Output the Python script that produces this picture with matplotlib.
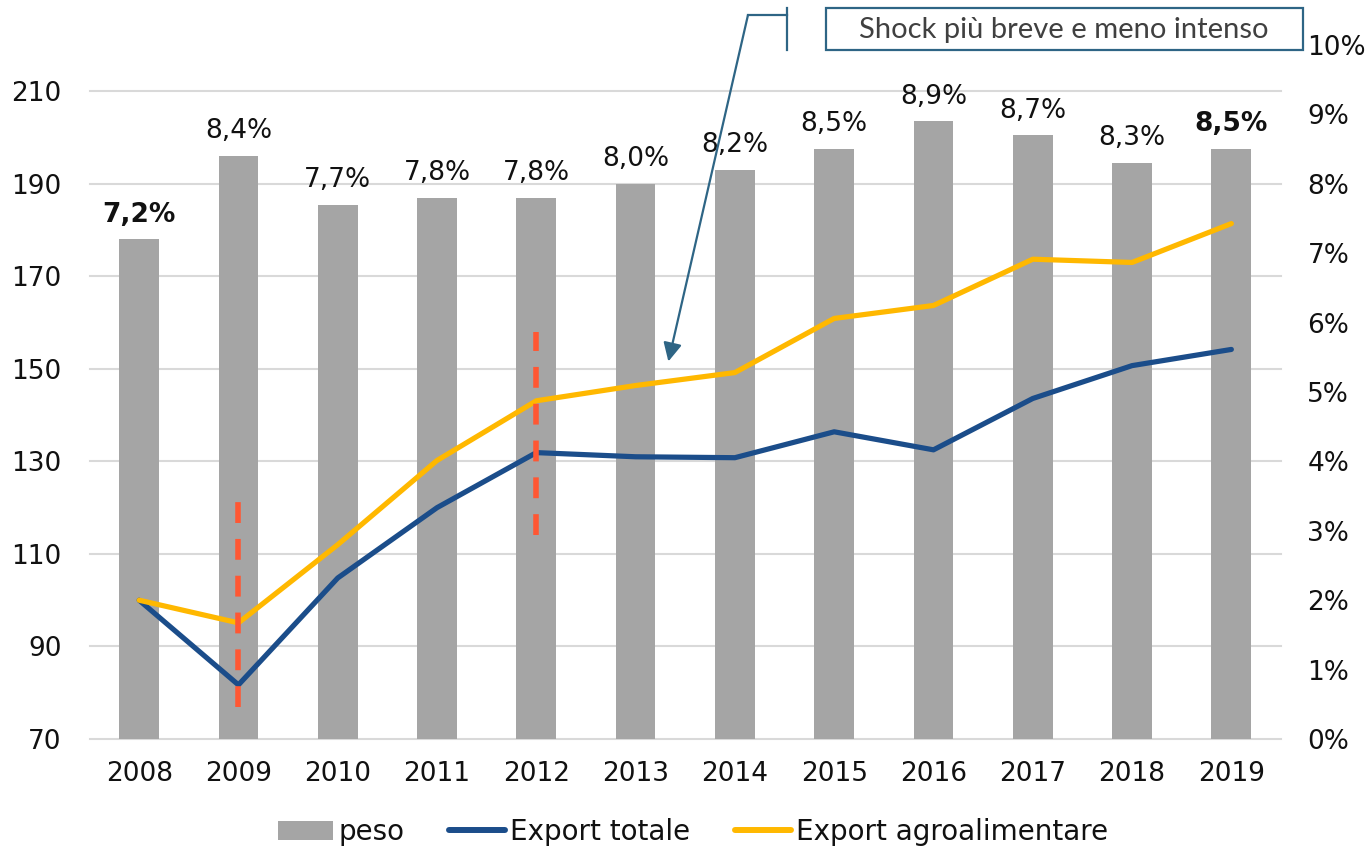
import matplotlib
matplotlib.use('Agg')
import matplotlib.pyplot as plt
import numpy as np
from matplotlib.patches import Rectangle, Patch
from matplotlib.lines import Line2D

# ---------------- data ----------------
years = ['2008', '2009', '2010', '2011', '2012', '2013',
         '2014', '2015', '2016', '2017', '2018', '2019']
peso = [7.2, 8.4, 7.7, 7.8, 7.8, 8.0, 8.2, 8.5, 8.9, 8.7, 8.3, 8.5]
export_totale = [100.0, 81.7, 104.8, 120.0, 131.9, 131.0,
                 130.8, 136.4, 132.5, 143.6, 150.7, 154.2]
export_agro = [100.0, 95.1, 112.0, 130.2, 143.1, 146.4,
               149.2, 160.9, 163.7, 173.7, 173.0, 181.4]
left_ticks = [70, 90, 110, 130, 150, 170, 190, 210]
right_ticks = [0, 1, 2, 3, 4, 5, 6, 7, 8, 9, 10]
bold_years = ['2008', '2019']
shock_years = ['2009', '2012']
shock_low = [77, 114]
shock_high = [122, 158]
callout_text = 'Shock più breve e meno intenso'
callout_target = (5.33, 151.6)   # (category position, left-axis value)
legend_labels = ['peso', 'Export totale', 'Export agroalimentare']

# ---------------- style ----------------
plt.rcParams['font.family'] = ['DejaVu Sans']
C_BAR = '#A5A5A5'
C_BLUE = '#1B4D8A'
C_YELLOW = '#FFB800'
C_RED = '#FF5733'
C_GRID = '#D9D9D9'
C_CALL = '#2E6585'
FS = 19

W, H = 1371, 850
fig = plt.figure(figsize=(W / 100, H / 100), dpi=100)

def fx(px):
    return px / W

def fy(py):
    return (H - py) / H

L, R, B, T = 89.5, 1281, 739, 45
ax_b = fig.add_axes([fx(L), fy(B), fx(R) - fx(L), fy(T) - fy(B)])
ax_l = ax_b.twinx()

x = np.arange(len(years))

# bars on percentage axis (right)
ax_b.bar(x, peso, width=0.4, color=C_BAR, zorder=2)
ax_b.set_ylim(0, 10)
ax_b.set_xlim(-0.5, len(years) - 0.5)
ax_b.yaxis.tick_right()
ax_b.set_yticks(right_ticks)
ax_b.set_yticklabels([f'{t}%' for t in right_ticks])
ax_b.set_xticks(x)
ax_b.set_xticklabels(years)
ax_b.tick_params(axis='y', length=0, pad=19, labelsize=FS, labelcolor='#111111')
ax_b.tick_params(axis='x', length=0, pad=16, labelsize=FS, labelcolor='#111111')

# lines on index axis (left)
ax_l.set_ylim(70, 220)
ax_l.yaxis.tick_left()
ax_l.set_yticks(left_ticks)
ax_l.set_yticklabels([str(t) for t in left_ticks])
ax_l.tick_params(axis='y', length=0, pad=20, labelsize=FS, labelcolor='#111111')

# gridlines (left scale) behind the bars
for v in left_ticks:
    ax_b.plot([0, 1], [v, v], transform=ax_l.get_yaxis_transform(),
              color=C_GRID, lw=1.5, zorder=0, clip_on=False)

for a in (ax_b, ax_l):
    for s in a.spines.values():
        s.set_visible(False)
ax_l.patch.set_visible(False)

ax_l.plot(x, export_totale, color=C_BLUE, lw=3.75, solid_joinstyle='round',
          solid_capstyle='round', zorder=3)
ax_l.plot(x, export_agro, color=C_YELLOW, lw=3.75, solid_joinstyle='round',
          solid_capstyle='round', zorder=3)

# red dashed shock markers
lw_red = 4.0
for yr, lo, hi in zip(shock_years, shock_low, shock_high):
    xi = years.index(yr)
    ax_l.plot([xi, xi], [lo, hi], color=C_RED, lw=lw_red,
              dashes=(15 / lw_red, 11.5 / lw_red), zorder=4)

# bar value labels
for xi, yr, v in zip(x, years, peso):
    lab = f'{v:.1f}'.replace('.', ',') + '%'
    ax_b.annotate(lab, (xi, v), xytext=(0, 12.7), textcoords='offset points',
                  ha='center', va='baseline', fontsize=FS, color='#111111',
                  fontweight='bold' if yr in bold_years else 'normal')

# callout
ax_l.annotate('', xy=callout_target, xycoords='data',
              xytext=(fx(748), fy(15)), textcoords='figure fraction',
              arrowprops=dict(arrowstyle='-|>,head_length=0.8,head_width=0.4',
                              color=C_CALL, lw=1.6, mutation_scale=14,
                              shrinkA=0, shrinkB=0))
fig.add_artist(Line2D([fx(748), fx(787)], [fy(15), fy(15)],
                      transform=fig.transFigure, color=C_CALL, lw=1.6))
fig.add_artist(Line2D([fx(787), fx(787)], [fy(8), fy(50)],
                      transform=fig.transFigure, color=C_CALL, lw=1.6))
fig.add_artist(Rectangle((fx(826), fy(50)), fx(1303) - fx(826), fy(8) - fy(50),
                         transform=fig.transFigure, fill=False,
                         edgecolor=C_CALL, lw=1.6))
fig.text(fx(1064), fy(30), callout_text, ha='center', va='center',
         fontsize=21, color='#404040', family=['Lato', 'DejaVu Sans'])

# legend
handles = [Patch(facecolor=C_BAR, edgecolor='none'),
           Line2D([], [], color=C_BLUE, lw=4.3, solid_capstyle='round'),
           Line2D([], [], color=C_YELLOW, lw=4.3, solid_capstyle='round')]
fig.legend(handles, legend_labels, loc='center', bbox_to_anchor=(fx(693), fy(832)),
           ncol=3, frameon=False, fontsize=20, handlelength=2.0,
           handletextpad=0.2, columnspacing=1.6, labelcolor='#111111')

fig.savefig('out.png', dpi=100)
